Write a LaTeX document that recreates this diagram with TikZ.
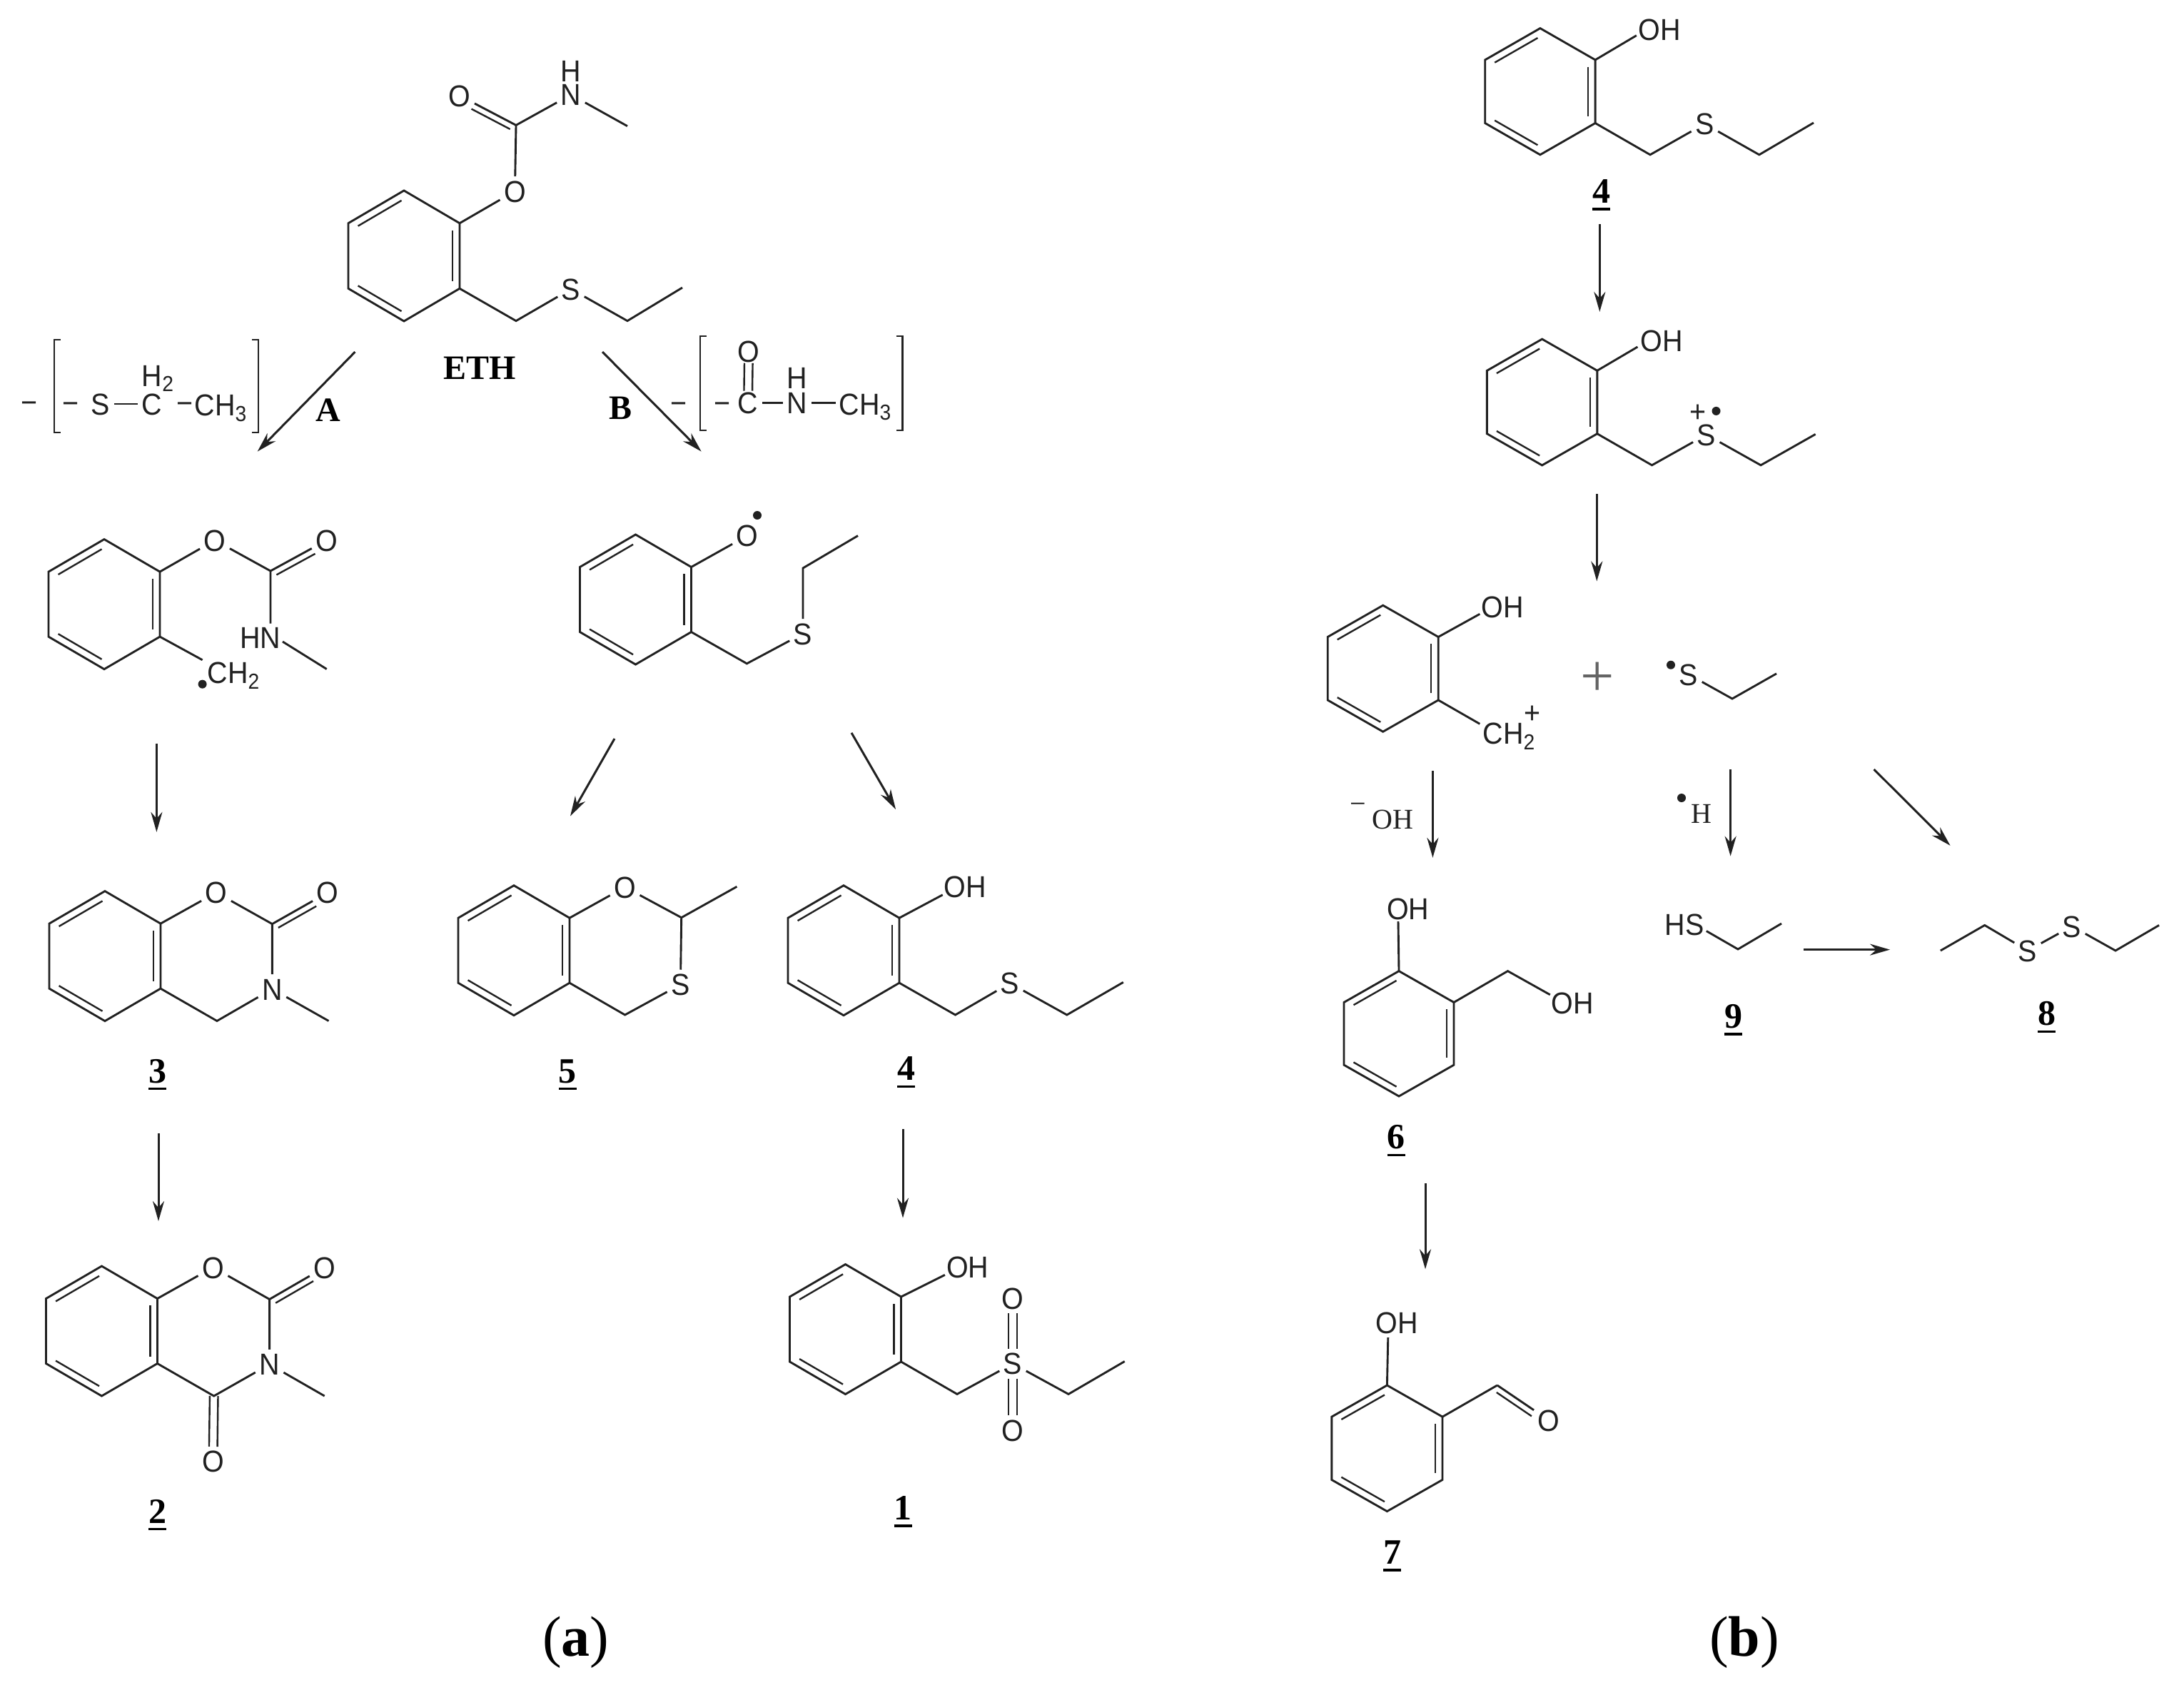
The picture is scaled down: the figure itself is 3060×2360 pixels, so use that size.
\documentclass[tikz,border=0pt]{standalone}
\usepackage{fontspec}
\setmainfont{Liberation Serif}
\setsansfont{Liberation Sans}
\newfontfamily\atomfont[FakeStretch=0.93]{Liberation Sans}
\usetikzlibrary{calc,arrows.meta}
\definecolor{ink}{gray}{0.13}
\tikzset{
  bond/.style={draw=ink,line width=0.72pt,line join=miter},
  thinbond/.style={draw=ink,line width=0.6pt},
  rarrow/.style={draw=ink,line width=0.75pt,-{Stealth[length=7pt,width=4pt]}},
  atom/.style={font=\atomfont\fontsize{10.6}{12}\selectfont,text=ink,inner sep=1.2pt,text height=7.6pt,text depth=0pt},
  serifatom/.style={font=\rmfamily\fontsize{10}{11}\selectfont,text=ink,inner sep=1pt,text height=6.6pt,text depth=0pt},
  lbl/.style={font=\rmfamily\bfseries\fontsize{12.5}{14}\selectfont,text=black,inner sep=0pt,text height=8.2pt,text depth=0pt},
  pathlbl/.style={font=\rmfamily\bfseries\fontsize{12}{14}\selectfont,text=black,inner sep=0pt,text height=8pt,text depth=0pt},
  captext/.style={font=\rmfamily\fontsize{20}{22}\selectfont,text=black,inner sep=0pt},
  radical/.style={circle,fill=ink,inner sep=0pt,minimum size=3pt},
}
\newcommand\cpt[3]{\coordinate (#1) at (#2,#3);}
\newcommand\atm[4]{\node[atom] (#1) at (#2,#3) {#4};}
\newcommand\dotr[3]{\node[radical] (#1) at (#2,#3) {};}
\newcommand\subs[1]{\raisebox{-1.9pt}{\fontsize{7.6}{7.6}\selectfont #1}}
\newcommand\ulab[1]{\setbox0=\hbox{#1}\leavevmode\rlap{\copy0}\rule[-2.6pt]{\wd0}{0.85pt}}
\newcommand\rxnarrow[5]{\coordinate (#1s) at (#2,#3); \coordinate (#1e) at (#4,#5); \draw[rarrow] (#1s) -- (#1e);}
% benzene ring: name, cx, cy, half width, half height
\newcommand\benz[5]{%
  \coordinate (#1-a) at (#2,#3-#5);
  \coordinate (#1-b) at (#2+#4,#3-#5/2);
  \coordinate (#1-c) at (#2+#4,#3+#5/2);
  \coordinate (#1-d) at (#2,#3+#5);
  \coordinate (#1-e) at (#2-#4,#3+#5/2);
  \coordinate (#1-f) at (#2-#4,#3-#5/2);
  \draw[bond] (#1-a)--(#1-b)--(#1-c)--(#1-d)--(#1-e)--(#1-f)--cycle;
  \draw[thinbond,shorten >=1pt,shorten <=1pt] (#2-.87*#4,#3-.87*#5/2) -- (#2,#3-.87*#5);
  \draw[thinbond,shorten >=1pt,shorten <=1pt] (#2+.87*#4,#3-.87*#5/2) -- (#2+.87*#4,#3+.87*#5/2);
  \draw[thinbond,shorten >=1pt,shorten <=1pt] (#2-.87*#4,#3+.87*#5/2) -- (#2,#3+.87*#5);
}
\newcommand\dblbond[4]{\draw[bond] (#1)--(#2);
  \draw[thinbond,shorten >=5.8pt,shorten <=1.2pt] ($(#1)!2.2pt!#3:(#2)$) -- ($(#2)!2.2pt!#4:(#1)$);}
\newcommand\dblsym[4]{%
  \draw[thinbond,shorten <=#3,shorten >=#4] ($(#1)!1.45pt!90:(#2)$) -- ($(#2)!1.45pt!-90:(#1)$);
  \draw[thinbond,shorten <=#3,shorten >=#4] ($(#1)!1.45pt!-90:(#2)$) -- ($(#2)!1.45pt!90:(#1)$);}
\newcommand\lbracket[4]{\cpt{#1u}{#2}{#3}\cpt{#1l}{#2}{#4}\draw[thinbond] ($(#1u)+(9,0)$)--(#1u)--(#1l)--($(#1l)+(9,0)$);}
\newcommand\rbracket[4]{\cpt{#1u}{#2}{#3}\cpt{#1l}{#2}{#4}\draw[thinbond] ($(#1u)+(-9,0)$)--(#1u)--(#1l)--($(#1l)+(-9,0)$);}
\begin{document}
\begin{tikzpicture}[x=0.25pt,y=-0.25pt]
\useasboundingbox (0,0) rectangle (3060,2360);
\fill[white] (0,0) rectangle (3060,2360);

% ===== ETH =====
\benz{E}{566}{358.5}{78}{91.5}
\atm{Eo}{721.4}{267.9}{O}
\cpt{Ecarb}{723}{175.4}
\atm{Eoo}{644}{134}{O}
\atm{En}{800}{132.7}{N}
\atm{Eh}{800}{99}{H}
\cpt{Eme}{879}{176.7}
\draw[bond] (E-b)--(Eo)--(Ecarb)--(En)--(Eme);
\dblbond{Ecarb}{Eoo}{90}{-90}
\cpt{Ech}{723}{449.6}
\atm{Es}{800}{405}{S}
\cpt{Ecc}{879}{449.6}
\cpt{Eend}{956}{403}
\draw[bond] (E-c)--(Ech)--(Es)--(Ecc)--(Eend);
\node[pathlbl] (ETH) at (672,515) {ETH};

% ===== pathway arrows =====
\rxnarrow{pa}{497.5}{493}{360.7}{632.6}
\rxnarrow{pb}{844}{493}{982.6}{632.6}
\node[pathlbl] (A) at (460,574) {A};
\node[pathlbl] (B) at (869,571) {B};

% ===== lost group A =====
\atm{la0}{41.5}{563}{−}
\lbracket{lal}{76}{476}{606}
\rbracket{lar}{362}{476}{606}
\atm{la1}{99.5}{564}{−}
\atm{las}{141}{566}{S}
\atm{lac}{213}{566}{C}
\atm{lah}{221}{526}{H\subs{2}}
\atm{la2}{259}{564}{−}
\atm{lam}{309}{567.6}{CH\subs{3}}
\draw[bond] (las)--(lac);

% ===== lost group B =====
\atm{lb0}{951}{564.4}{−}
\lbracket{lbl}{981}{470.7}{602.7}
\rbracket{lbr}{1264.5}{470.7}{602.7}
\atm{lb1}{1011.6}{564.4}{−}
\atm{lbc}{1048}{564.4}{C}
\atm{lbo}{1049}{492}{O}
\dblsym{lbc}{lbo}{4.2pt}{4.2pt}
\atm{lbn}{1117}{564.4}{N}
\atm{lbh}{1117}{529}{H}
\atm{lbm}{1212}{566}{CH\subs{3}}
\cpt{lbme}{1171}{564.4}
\draw[bond] (lbc)--(lbn)--(lbme);

% ===== radical A =====
\benz{R}{146}{846.6}{78}{91}
\atm{Ro}{301}{757}{O}
\cpt{Rcarb}{379}{800}
\atm{Roo}{457.7}{757}{O}
\node[atom] (Rhn) at (365,893) {HN};
\cpt{Rn}{379}{873.7}
\cpt{Rns}{396}{899}
\cpt{Rme}{457.7}{937.5}
\draw[bond] (R-b)--(Ro)--(Rcarb)--(Rn);
\draw[bond] (Rns)--(Rme);
\dblbond{Rcarb}{Roo}{-90}{90}
\cpt{Rche}{283.6}{924.7}
\draw[bond] (R-c)--(Rche);
\node[atom] (Rch) at (327,942.6) {CH\subs{2}};
\dotr{Rdot}{283.6}{958.6}

% ===== radical B =====
\benz{Q}{890.5}{840}{78}{91}
\atm{Qo}{1047}{750.6}{O}
\dotr{Qdot}{1061}{722}
\cpt{Qch}{1046.4}{929.8}
\atm{Qs}{1125}{887.8}{S}
\cpt{Qcc}{1125}{796}
\cpt{Qend}{1202}{750.6}
\draw[bond] (Q-b)--(Qo);
\draw[bond] (Q-c)--(Qch)--(Qs)--(Qcc)--(Qend);

% ===== arrows left =====
\rxnarrow{a3}{219.4}{1041.5}{219.4}{1165.8}
\rxnarrow{a2}{222}{1588}{222}{1711}
\rxnarrow{a5}{861}{1035}{799}{1143.5}
\rxnarrow{a4}{1193}{1026.8}{1255}{1134}
\rxnarrow{a1}{1265}{1582}{1265}{1706.6}

% ===== 3 =====
\benz{T}{147}{1339.6}{78}{91}
\atm{To}{303}{1250.6}{O}
\cpt{Tcarb}{381.4}{1294.6}
\atm{Too}{459}{1250.6}{O}
\atm{Tn}{381.4}{1385.8}{N}
\cpt{Tch}{304}{1430.5}
\cpt{Tme}{460.5}{1430.5}
\draw[bond] (T-b)--(To)--(Tcarb)--(Tn)--(Tch)--(T-c);
\draw[bond] (Tn)--(Tme);
\dblbond{Tcarb}{Too}{-90}{90}
\node[lbl] (L3) at (220.7,1500.6) {\ulab{3}};

% ===== 2 =====
\benz{W}{142.5}{1865}{78}{91}
\atm{Wo}{298.5}{1775.8}{O}
\cpt{Wcarb}{377.6}{1820.5}
\atm{Woo}{454.7}{1775.8}{O}
\atm{Wn}{377.6}{1911.7}{N}
\cpt{Wcc}{299.7}{1956}
\atm{Wooo}{298.5}{2046.9}{O}
\cpt{Wme}{454.7}{1956}
\draw[bond] (W-b)--(Wo)--(Wcarb)--(Wn)--(Wcc)--(W-c);
\draw[bond] (Wn)--(Wme);
\dblbond{Wcarb}{Woo}{-90}{90}
\dblsym{Wcc}{Wooo}{0pt}{5pt}
\node[lbl] (L2) at (220.7,2117.6) {\ulab{2}};

% ===== 5 =====
\benz{F}{720}{1331.7}{78}{91}
\atm{Fo}{875.6}{1243}{O}
\cpt{Fcc}{954.7}{1285.7}
\cpt{Fme}{1032.4}{1242.3}
\atm{Fs}{953.4}{1379.5}{S}
\cpt{Fch}{875.6}{1422}
\draw[bond] (F-b)--(Fo)--(Fcc)--(Fs)--(Fch)--(F-c);
\draw[bond] (Fcc)--(Fme);
\node[lbl] (L5) at (795.3,1500.6) {\ulab{5}};

% ===== 4 (left panel) =====
\benz{G}{1182}{1331.7}{78}{91}
\atm{Goh}{1352.5}{1242.3}{OH}
\cpt{Gohe}{1320.7}{1253.8}
\cpt{Gch}{1338.5}{1422}
\atm{Gs}{1415}{1377.6}{S}
\cpt{Gcc}{1494.8}{1422}
\cpt{Gend}{1573.8}{1376.3}
\draw[bond] (G-b)--(Gohe);
\draw[bond] (G-c)--(Gch)--(Gs)--(Gcc)--(Gend);
\node[lbl] (L4a) at (1269.6,1497.5) {\ulab{4}};

% ===== 1 =====
\benz{H}{1184.5}{1862.5}{78}{91}
\atm{Hoh}{1355.7}{1774.9}{OH}
\cpt{Hohe}{1323.9}{1786.3}
\cpt{Hch}{1341}{1953.4}
\atm{Hs}{1419}{1910.7}{S}
\atm{Ho}{1419}{1819.5}{O}
\atm{Hoo}{1419}{2004}{O}
\cpt{Hcc}{1497}{1953.4}
\cpt{Hend}{1575.7}{1907.5}
\draw[bond] (H-b)--(Hohe);
\draw[bond] (H-c)--(Hch)--(Hs)--(Hcc)--(Hend);
\dblsym{Hs}{Ho}{5.2pt}{5.2pt}
\dblsym{Hs}{Hoo}{5.2pt}{5.2pt}
\node[lbl] (L1) at (1265,2113) {\ulab{1}};

\node[captext] (capa) at (806.8,2301) {(\textbf{a})};
\node[captext] (capb) at (2444,2301) {(\textbf{b})};

% ===== right: 4 =====
\benz{I}{2157.9}{128.2}{77.2}{88.6}
\atm{Ioh}{2325}{41.5}{OH}
\cpt{Iohe}{2292.8}{49.7}
\cpt{Ich}{2312}{216.8}
\atm{Is}{2388.4}{173.5}{S}
\cpt{Icc}{2464.8}{216.8}
\cpt{Iend}{2541}{172}
\draw[bond] (I-b)--(Iohe);
\draw[bond] (I-c)--(Ich)--(Is)--(Icc)--(Iend);
\node[lbl] (L4b) at (2243.7,267.9) {\ulab{4}};
\rxnarrow{b1}{2241.3}{313.8}{2241.3}{436.9}

% ===== right: cation radical =====
\benz{J}{2160.6}{563.5}{77.2}{88.4}
\atm{Joh}{2328}{477}{OH}
\cpt{Johe}{2294.4}{486}
\cpt{Jch}{2314.5}{651.8}
\atm{Js}{2390.8}{609}{S}
\atm{Jp}{2378.8}{575.9}{+}
\dotr{Jdot}{2404.5}{575.9}
\cpt{Jcc}{2467}{651.8}
\cpt{Jend}{2543.6}{608.4}
\draw[bond] (J-b)--(Johe);
\draw[bond] (J-c)--(Jch)--(Js)--(Jcc)--(Jend);
\rxnarrow{b2}{2237.3}{692}{2237.3}{814.4}

% ===== right: benzyl cation =====
\benz{K}{1937.7}{936.7}{77.5}{88.5}
\atm{Koh}{2105.5}{850.4}{OH}
\cpt{Kohe}{2073.3}{860.3}
\cpt{Kche}{2073.3}{1014.3}
\atm{Kch}{2114}{1027.7}{CH\subs{2}}
\atm{Kp}{2147.3}{997.8}{+}
\draw[bond] (K-b)--(Kohe);
\draw[bond] (K-c)--(Kche);
\node[font=\rmfamily\fontsize{21}{22}\selectfont,text=ink!70,inner sep=0pt] (plus) at (2238,952) {+};
\dotr{Sdot}{2341}{931.7}
\atm{Ss}{2366}{945}{S}
\cpt{Scc}{2427}{979}
\cpt{Send}{2489}{943.8}
\draw[bond] (Ss)--(Scc)--(Send);

\rxnarrow{b3}{2007.4}{1080}{2007.4}{1201.8}
\rxnarrow{b4}{2424.6}{1078}{2424.6}{1199.6}
\rxnarrow{b5}{2625.6}{1078}{2732.5}{1184.8}
\node[serifatom] (mn) at (1903,1126) {−};
\node[serifatom] (moh) at (1951,1148) {OH};
\dotr{hdot}{2356}{1118}
\node[serifatom] (mh) at (2384.4,1140) {H};

% ===== 9 =====
\atm{Nhs}{2360.3}{1295.5}{HS}
\cpt{Nhse}{2390.8}{1304.5}
\cpt{Ncc}{2435}{1330}
\cpt{Nend}{2496}{1294}
\draw[bond] (Nhse)--(Ncc)--(Nend);
\node[lbl] (L9) at (2428.6,1424) {\ulab{9}};
\rxnarrow{b6}{2527}{1330.6}{2648}{1330.6}

% ===== 8 =====
\cpt{Dbeg}{2718.8}{1332}
\cpt{Dcc}{2780.7}{1296.4}
\atm{Ds}{2841}{1332}{S}
\atm{Dt}{2903}{1297.8}{S}
\cpt{Ddd}{2964}{1332}
\cpt{Dend}{3025}{1296.4}
\draw[bond] (Dbeg)--(Dcc)--(Ds)--(Dt)--(Ddd)--(Dend);
\node[lbl] (L8) at (2867.5,1420.5) {\ulab{8}};

% ===== 6 =====
\benz{L}{1960}{1448.3}{77}{87.7}
\atm{Loh}{1972.8}{1273}{OH}
\cpt{Lohe}{1959}{1291}
\cpt{Lcc}{2112.5}{1360.6}
\cpt{Lohh}{2171.8}{1393.8}
\atm{Loo}{2203}{1405}{OH}
\draw[bond] (L-a)--(Lohe);
\draw[bond] (L-b)--(Lcc)--(Lohh);
\node[lbl] (L6) at (1956,1593.4) {\ulab{6}};
\rxnarrow{b7}{1997}{1658.4}{1997}{1778.3}

% ===== 7 =====
\benz{M}{1943.4}{2029.3}{77.6}{88.3}
\atm{Moh}{1957.5}{1853.6}{OH}
\cpt{Mohe}{1944.8}{1874}
\cpt{Mcc}{2097.8}{1941}
\atm{Mo}{2170}{1990}{O}
\draw[bond] (M-a)--(Mohe);
\draw[bond] (M-b)--(Mcc);
\dblbond{Mcc}{Mo}{-90}{90}
\node[lbl] (L7) at (1950.5,2175) {\ulab{7}};
\end{tikzpicture}
\end{document}
